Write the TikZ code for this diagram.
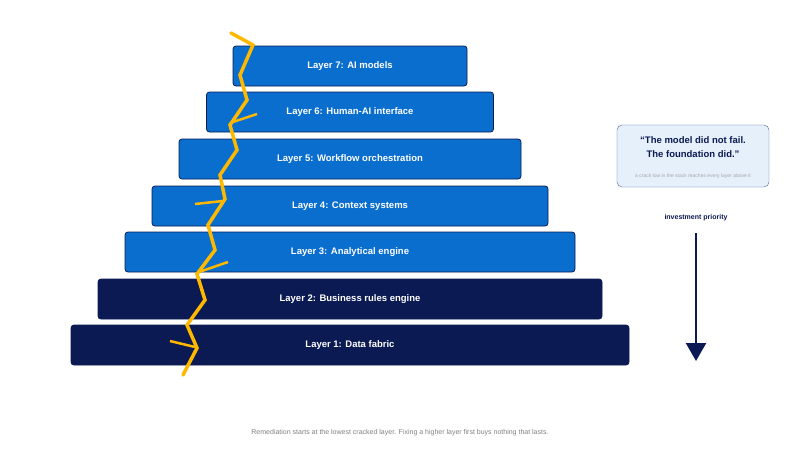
\documentclass[tikz,border=0pt]{standalone}
\usepackage{fontspec}
\setmainfont{Liberation Sans}
\usetikzlibrary{arrows.meta}
\definecolor{layerblue}{HTML}{0A6ECF}
\definecolor{navy}{HTML}{0B1A52}
\definecolor{crack}{HTML}{FFB800}
\definecolor{notefill}{HTML}{E6F0FA}
\definecolor{noteline}{HTML}{4A6A9A}
\begin{document}
\begin{tikzpicture}[x=1pt,y=-1pt,
  layer/.style = {rectangle,draw=navy,thick,rounded corners=3pt,minimum height=40pt,
                  text=white,font=\bfseries\fontsize{9.5}{11}\selectfont,outer sep=0pt},
  upper/.style = {layer,fill=layerblue},
  lower/.style = {layer,fill=navy}]
\useasboundingbox (0,0) rectangle (800,450);
% layers, widest at the bottom
\foreach \t/\w/\y [count=\n from 1] in {Data fabric/558/345, Business rules engine/504/299}
    \node[lower,minimum width=\w pt] (L\n) at (350,\y) {Layer \n: \t};
\foreach \t/\w/\y [count=\n from 3] in {Analytical engine/450/252, Context systems/396/206,
        Workflow orchestration/342/159, Human-AI interface/287/112, AI models/234/66}
    \node[upper,minimum width=\w pt] (L\n) at (350,\y) {Layer \n: \t};
% crack
\draw[crack,line width=3.5pt,line join=miter,line cap=round]
  (231,33) -- (253,45) -- (240,75) -- (247,100) -- (230,125) -- (237,150) -- (220,175)
  -- (225,199) -- (208,225) -- (215,250) -- (197,274) -- (205,300) -- (187,325)
  -- (197,348) -- (183,375);
\draw[crack,line width=2.5pt] (230,123) -- (257,114);
\draw[crack,line width=2.5pt] (223,201) -- (195,204);
\draw[crack,line width=2.5pt] (199,272) -- (228,262);
\draw[crack,line width=2.5pt] (195,347) -- (170,341);
% note
\node[rectangle,draw=noteline,fill=notefill,rounded corners=5pt,minimum width=152pt,
      minimum height=62pt,inner sep=0pt] (note) at (693,156) {};
\node[text=navy,font=\bfseries\fontsize{9.5}{14}\selectfont,align=center] (quote)
  at (693,147) {“The model did not fail.\\The foundation did.”};
\node[text=gray!70,font=\fontsize{5}{6}\selectfont] (sub) at (693,176)
  {a crack low in the stack reaches every layer above it};
% priority arrow
\node[text=navy,font=\bfseries\fontsize{7}{8}\selectfont] (prio) at (696,218) {investment priority};
\coordinate (top) at (696,233);
\coordinate (bot) at (696,361);
\draw[navy,line width=2.5pt,-{Triangle[length=18pt,width=20pt]}] (top) -- (bot);
% footer
\node[text=gray,font=\fontsize{7}{8}\selectfont] (foot) at (400,433)
  {Remediation starts at the lowest cracked layer. Fixing a higher layer first buys nothing that lasts.};
\end{tikzpicture}
\end{document}
